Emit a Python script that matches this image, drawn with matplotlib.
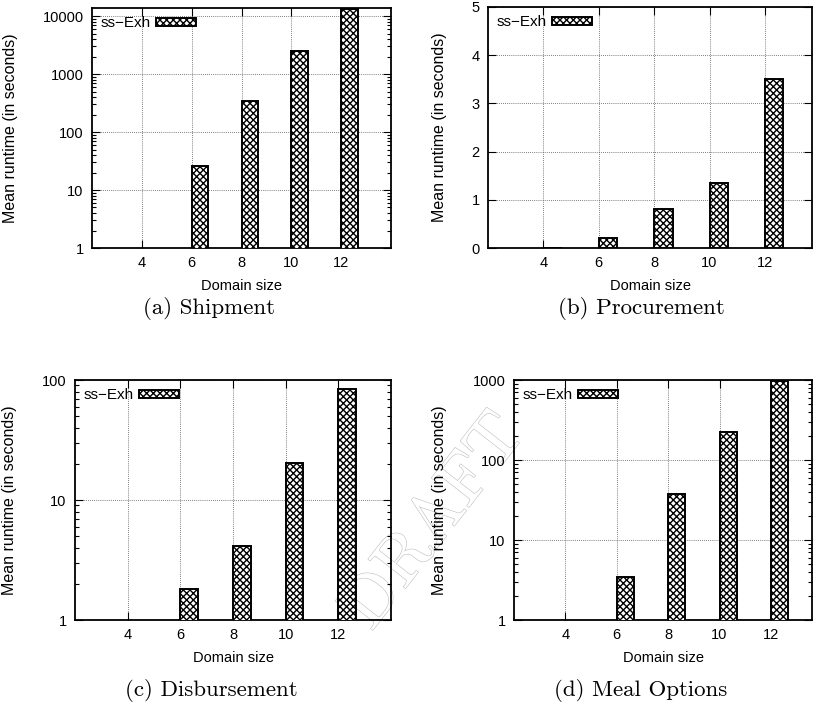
import matplotlib
matplotlib.use("Agg")
import matplotlib.pyplot as plt
import matplotlib.patheffects as pe
from matplotlib.ticker import FixedLocator, NullFormatter, LogLocator

plt.rcParams['font.family'] = ['Liberation Sans', 'DejaVu Sans']
plt.rcParams['hatch.linewidth'] = 1.0

# data
domain = [4, 6, 8, 10, 12]
shipment = [0.01, 25.6, 341, 2550, 13500]
procurement = [0.01, 0.2, 0.8, 1.34, 3.51]
disbursement = [0.01, 1.8, 4.16, 20.2, 83.6]
meal = [0.01, 3.48, 37.6, 223, 980]

series_name = "ss\u2212Exh"
captions = ["(a) Shipment", "(b) Procurement", "(c) Disbursement", "(d) Meal Options"]

W, H = 813, 704
fig = plt.figure(figsize=(W / 100, H / 100), dpi=100)


def px_axes(l, t, r, b):
    return fig.add_axes([l / W, 1 - b / H, (r - l) / W, (b - t) / H])


def panel(box, vals, ylog, ylim, yticks, xmax, ylab_x, cap_xy):
    l, t, r, b = box
    ax = px_axes(l, t, r, b)
    ax.set_facecolor('none')
    ax.bar(domain, vals, width=0.67, align='edge', color='white',
           edgecolor='black', hatch='xxxxx', linewidth=1.4, label=series_name,
           zorder=3)
    if ylog:
        ax.set_yscale('log')
        ax.yaxis.set_minor_locator(LogLocator(base=10, subs=range(2, 10)))
        ax.yaxis.set_minor_formatter(NullFormatter())
    ax.set_ylim(*ylim)
    ax.set_xlim(2, xmax)
    ax.yaxis.set_major_locator(FixedLocator(yticks))
    ax.set_yticklabels([str(v) for v in yticks])
    ax.set_xticks(domain)
    ax.set_xticklabels([str(d) for d in domain])
    ax.tick_params(which='both', direction='in', top=True, right=True,
                   labelsize=10.5, pad=6)
    ax.tick_params(which='major', length=6, width=0.8)
    ax.tick_params(which='minor', length=3, width=0.8)
    ax.grid(True, which='major', linestyle=(0, (1, 1.5)), color='#555555',
            linewidth=0.6, zorder=0)
    for s in ax.spines.values():
        s.set_linewidth(1.3)
    ax.set_xlabel("Domain size", fontsize=10.5, labelpad=6)
    ax.set_ylabel("Mean runtime (in seconds)", fontsize=11.5)
    ax.yaxis.set_label_coords((ylab_x - l) / (r - l), 0.5)
    ax.legend(loc='upper left', frameon=False, markerfirst=False,
              fontsize=11, handlelength=2.6, handleheight=0.5,
              borderaxespad=0.2, borderpad=0.35, handletextpad=0.35)
    fig.text(cap_xy[0] / W, 1 - cap_xy[1] / H, cap_xy[2], family='cmr10',
             fontsize=16.5, ha='center', va='center')
    return ax


panel((92, 8, 391, 248), shipment, True, (1, 13800), [1, 10, 100, 1000, 10000],
      14, 18, (209, 309, captions[0]))
panel((488, 7, 812, 248), procurement, False, (0, 5), [0, 1, 2, 3, 4, 5],
      13.7, 447, (641, 309, captions[1]))
panel((75, 380, 391, 620), disbursement, True, (1, 100), [1, 10, 100],
      14, 17, (211, 691, captions[2]))
panel((514, 380, 812, 620), meal, True, (1, 1000), [1, 10, 100, 1000],
      13.6, 447, (641, 691, captions[3]))

# watermark, behind everything
fig.text(435 / W, 1 - 522 / H, "DRAFT", family='cmr10', fontsize=50,
         rotation=52, ha='center', va='center', color='white', zorder=-1,
         path_effects=[pe.Stroke(linewidth=0.8, foreground='#bdbdbd'),
                       pe.Normal()])

fig.savefig("out.png", dpi=100)
